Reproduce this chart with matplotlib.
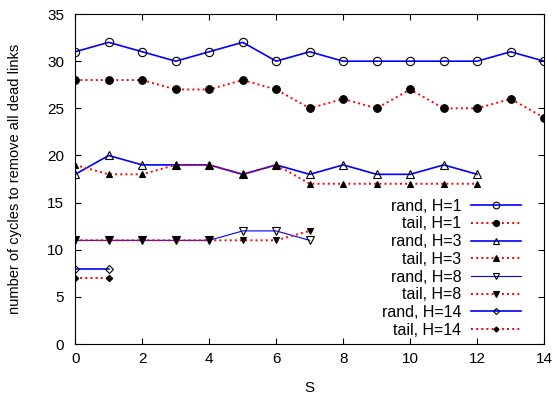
import matplotlib
matplotlib.use('Agg')
import matplotlib.pyplot as plt

plt.rcParams['font.family'] = ['Liberation Sans', 'DejaVu Sans']
plt.rcParams['font.size'] = 11

# values
rand_h1 = [31, 32, 31, 30, 31, 32, 30, 31, 30, 30, 30, 30, 30, 31, 30]
tail_h1 = [28, 28, 28, 27, 27, 28, 27, 25, 26, 25, 27, 25, 25, 26, 24]
rand_h3 = [18, 20, 19, 19, 19, 18, 19, 18, 19, 18, 18, 19, 18]
tail_h3 = [19, 18, 18, 19, 19, 18, 19, 17, 17, 17, 17, 17, 17]
rand_h8 = [11, 11, 11, 11, 11, 12, 12, 11]
tail_h8 = [11, 11, 11, 11, 11, 11, 11, 12]
rand_h14 = [8, 8]
tail_h14 = [7, 7]

fig = plt.figure(figsize=(5.57, 4.01), dpi=100)
ax = fig.add_axes([0.135, 0.142, 0.842, 0.823])

blue = '#0000ff'
red = '#ff0000'

def draw(vals, label, color, ls, lw, marker, filled, ms):
    xs = list(range(len(vals)))
    ax.plot(xs, vals, color=color, linestyle=ls, linewidth=lw, marker=marker,
            markersize=ms, markerfacecolor='black' if filled else 'none',
            markeredgecolor='black', markeredgewidth=0.8, label=label)

draw(rand_h1, 'rand, H=1', blue, '-', 1.2, 'o', False, 6)
draw(tail_h1, 'tail, H=1', red, ':', 1.4, 'o', True, 5.5)
draw(rand_h3, 'rand, H=3', blue, '-', 1.2, '^', False, 5.5)
draw(tail_h3, 'tail, H=3', red, ':', 1.4, '^', True, 5)
draw(rand_h8, 'rand, H=8', blue, '-', 0.8, 'v', False, 5.5)
draw(tail_h8, 'tail, H=8', red, ':', 1.4, 'v', True, 5)
draw(rand_h14, 'rand, H=14', blue, '-', 1.2, 'D', False, 3.8)
draw(tail_h14, 'tail, H=14', red, ':', 1.4, 'D', True, 3.3)

ax.set_xlim(0, 14)
ax.set_ylim(0, 35)
ax.set_xticks(range(0, 15, 2))
ax.set_yticks(range(0, 36, 5))
ax.tick_params(direction='in', top=True, right=True, length=4, labelsize=11)
ax.tick_params(axis='x', pad=6)
ax.tick_params(axis='y', pad=8)
ax.set_xlabel('S', fontsize=11)
ax.set_ylabel('number of cycles to remove all dead links', fontsize=10.5)
ax.xaxis.set_label_coords(0.5, -0.112)
ax.yaxis.set_label_coords(-0.113, 0.5)

leg = ax.legend(loc='lower right', bbox_to_anchor=(0.97, -0.01), frameon=False,
                markerfirst=False, handlelength=3.1, labelspacing=0.17,
                fontsize=11.5, borderaxespad=0.2, handletextpad=0.6,
                markerscale=0.8)
for t in leg.get_texts():
    t.set_ha('right')
leg._legend_box.align = 'right'

fig.savefig('out.png', dpi=100)
